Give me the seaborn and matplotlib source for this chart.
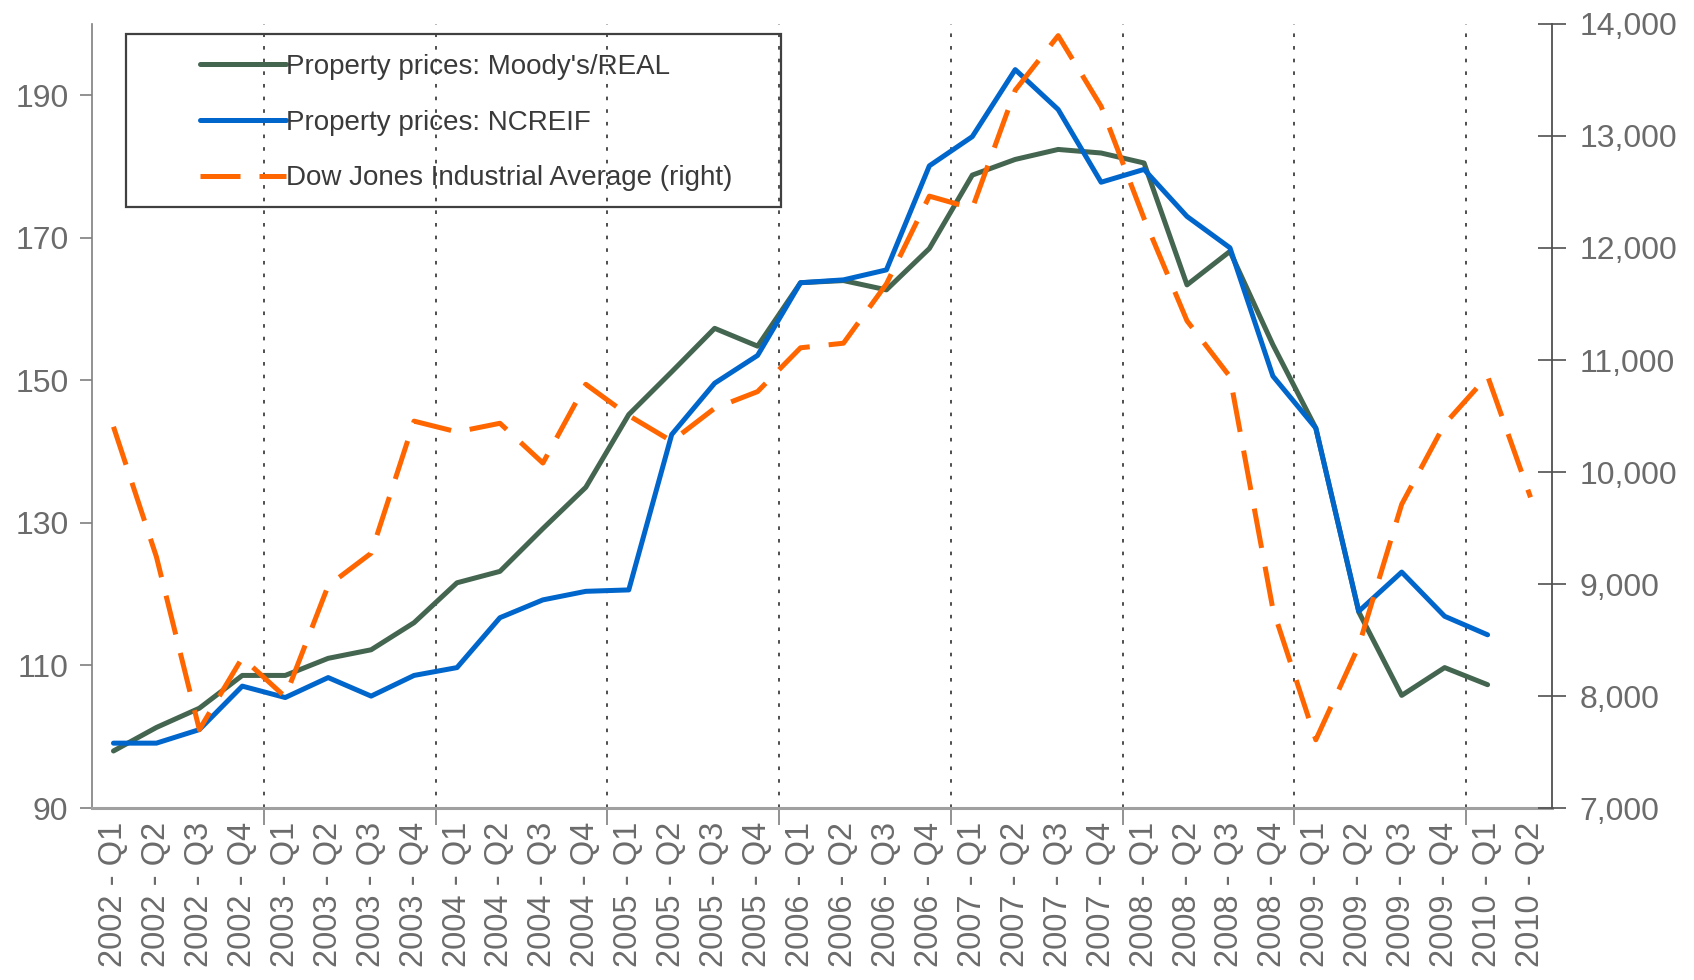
import numpy as np
import pandas as pd
import matplotlib
matplotlib.use("Agg")
import matplotlib.pyplot as plt
import matplotlib.patches as mpatches
from matplotlib.ticker import FuncFormatter, FixedLocator
import seaborn as sns

quarters = ['2002 - Q1', '2002 - Q2', '2002 - Q3', '2002 - Q4',
            '2003 - Q1', '2003 - Q2', '2003 - Q3', '2003 - Q4',
            '2004 - Q1', '2004 - Q2', '2004 - Q3', '2004 - Q4',
            '2005 - Q1', '2005 - Q2', '2005 - Q3', '2005 - Q4',
            '2006 - Q1', '2006 - Q2', '2006 - Q3', '2006 - Q4',
            '2007 - Q1', '2007 - Q2', '2007 - Q3', '2007 - Q4',
            '2008 - Q1', '2008 - Q2', '2008 - Q3', '2008 - Q4',
            '2009 - Q1', '2009 - Q2', '2009 - Q3', '2009 - Q4',
            '2010 - Q1', '2010 - Q2']

moody = [98.0, 101.3, 104.0, 108.6, 108.6, 111.0, 112.2, 116.0,
         121.6, 123.2, 129.2, 135.0, 145.2, 151.2, 157.3, 154.8,
         163.7, 164.0, 162.7, 168.5, 178.8, 181.0, 182.4, 181.9,
         180.5, 163.4, 168.1, 155.0, 143.3, 117.5, 105.8, 109.7,
         107.3, np.nan]

ncreif = [99.1, 99.1, 101.0, 107.1, 105.5, 108.3, 105.7, 108.6,
          109.7, 116.7, 119.2, 120.4, 120.6, 142.4, 149.6, 153.5,
          163.7, 164.1, 165.5, 180.1, 184.2, 193.6, 188.0, 177.8,
          179.6, 173.0, 168.6, 150.6, 143.3, 117.6, 123.1, 116.9,
          114.3, np.nan]

dow = [10404, 9243, 7700, 8342, 7992, 8985, 9275, 10454,
       10358, 10435, 10080, 10783, 10504, 10275, 10569, 10718,
       11109, 11150, 11679, 12463, 12354, 13409, 13896, 13265,
       12263, 11350, 10851, 8776, 7609, 8447, 9712, 10428,
       10857, 9774]

series_names = ["Property prices: Moody's/REAL",
                "Property prices: NCREIF",
                "Dow Jones Industrial Average (right)"]

df = pd.DataFrame({"idx": np.arange(len(quarters)), "quarter": quarters,
                   "moody": moody, "ncreif": ncreif, "dow": dow})

sns.set_theme(style="white")
plt.rcParams['font.family'] = ['Liberation Sans', 'DejaVu Sans']

GREEN = '#446550'
BLUE = '#0066CC'
ORANGE = '#FF6600'
TICKC = '#6b6b6b'
AXC = '#7f7f7f'

fig = plt.figure(figsize=(16.94, 9.80), dpi=100)
ax = fig.add_axes([92/1694, 1 - 808/980, (1552 - 92)/1694, (808 - 24)/980])
ax2 = ax.twinx()

sns.lineplot(data=df, x="idx", y="moody", ax=ax, color=GREEN, lw=3.6,
             label=series_names[0], legend=False)
sns.lineplot(data=df, x="idx", y="ncreif", ax=ax, color=BLUE, lw=3.6,
             label=series_names[1], legend=False)
sns.lineplot(data=df, x="idx", y="dow", ax=ax2, color=ORANGE, lw=3.6,
             label=series_names[2], legend=False)
ax2.lines[0].set_dashes((8, 3.8))

n = len(quarters)
ax.set_xlim(-0.5, n - 0.5)
ax.set_ylim(90, 200)
ax2.set_ylim(7000, 14000)

# vertical dotted separators between years
bounds = np.arange(3.5, n - 1, 4)
for b in bounds:
    ax.axvline(b, color='#404040', lw=1.3, ls=(0, (2, 5)), zorder=0)

ax.xaxis.set_major_locator(FixedLocator(bounds))
ax.xaxis.set_minor_locator(FixedLocator(df["idx"].values))
ax.set_xticklabels([''] * len(bounds))
ax.set_xticklabels(quarters, minor=True, rotation=90)
ax.tick_params(axis='x', which='major', direction='out', length=12, width=1.2, color=AXC, bottom=True)
ax.tick_params(axis='x', which='minor', length=0, pad=10, labelsize=23.5, labelcolor=TICKC)

ax.set_yticks(np.arange(90, 200, 20))
ax.tick_params(axis='y', direction='out', length=9, width=1.2, color=AXC, left=True,
               labelsize=23, labelcolor=TICKC, pad=8)
ax2.set_yticks(np.arange(7000, 14001, 1000))
ax2.yaxis.set_major_formatter(FuncFormatter(lambda v, p: f"{int(v):,}"))
ax2.tick_params(axis='y', direction='inout', length=20, width=1.2, color='#505050', right=True,
                labelsize=23, labelcolor=TICKC, pad=10)

ax.set_xlabel('')
ax.set_ylabel('')
ax2.set_ylabel('')
for s in ['top']:
    ax.spines[s].set_visible(False)
    ax2.spines[s].set_visible(False)
ax2.spines['left'].set_visible(False)
ax2.spines['bottom'].set_visible(False)
ax.spines['right'].set_visible(False)
ax.spines['left'].set_color(AXC)
ax.spines['left'].set_linewidth(1.2)
ax.spines['bottom'].set_color('#a0a0a0')
ax.spines['bottom'].set_linewidth(2.2)
ax2.spines['right'].set_color('#505050')
ax2.spines['right'].set_linewidth(1.3)

# legend
handles = [ax.lines[0], ax.lines[1], ax2.lines[0]]
leg = ax2.legend(handles, series_names, loc='upper left',
                 bbox_to_anchor=((200 - 92) / 1460, (808 - 54) / 784),
                 frameon=False, fontsize=20, handlelength=3.1, handletextpad=0.0,
                 labelspacing=1.07, borderpad=0.0, borderaxespad=0.0)
for t in leg.get_texts():
    t.set_color('#3a3a3a')
rect = mpatches.Rectangle(((126 - 92) / 1460, (808 - 207) / 784),
                          (781 - 126) / 1460, (207 - 34) / 784,
                          transform=ax2.transAxes, fill=False, edgecolor='#404040',
                          lw=1.6, zorder=5, clip_on=False)
ax2.add_patch(rect)

fig.savefig("out.png", dpi=100)
